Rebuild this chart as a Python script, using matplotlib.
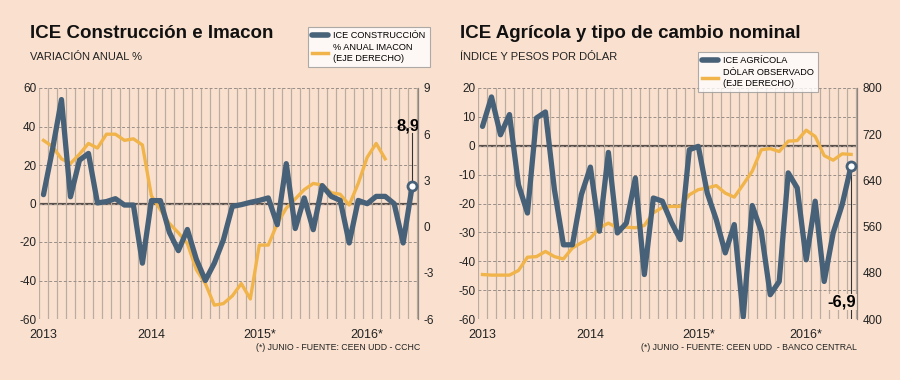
import matplotlib
matplotlib.use("Agg")
import matplotlib.pyplot as plt
import numpy as np
from matplotlib.lines import Line2D

plt.rcParams['font.family'] = ['Liberation Sans', 'DejaVu Sans']
plt.rcParams['axes.unicode_minus'] = False

# monthly data, Jan 2013 .. Jun 2016
ice_construccion = [4.6, 28, 54, 3.5, 22.5, 26, 0.3, 1, 2.5, -0.8, -0.8, -31,
                    1.5, 1.5, -15, -24.5, -13.5, -29, -40, -31, -19, -1.5, -0.6, 0.6,
                    1.6, 2.9, -11, 20.7, -13, 2.9, -13.6, 9.3, 3.7, 1.6, -20.5, 1.6,
                    -0.1, 3.7, 3.7, -0.1, -20.5, 8.9]
imacon = [5.6, 5.2, 4.4, 4.1, 4.7, 5.4, 5.1, 6.0, 6.0, 5.6, 5.7, 5.3,
          2.0, 1.1, 0.2, -0.4, -1.1, -2.8, -3.7, -5.1, -5.0, -4.5, -3.7, -4.7,
          -1.2, -1.2, 0.2, 1.2, 1.8, 2.4, 2.8, 2.7, 2.2, 2.1, 1.4, 2.8,
          4.5, 5.4, 4.4]
ice_agricola = [6.7, 16.9, 3.8, 10.8, -13.5, -23.3, 9.6, 11.7, -15.2, -34.3, -34.3, -16.9,
                -7.4, -29.6, -2.3, -30.2, -26.8, -11.2, -44.6, -18.1, -19.2, -26.5, -32.5, -1.4,
                -0.2, -16.4, -25.6, -37.1, -27.3, -59.3, -20.7, -29.6, -51.6, -47, -9.4, -14.6,
                -39.5, -19.2, -47, -30.2, -20.4, -6.9]
dolar = [477, 476, 476, 476, 484, 507, 508, 517, 508, 504, 523, 532,
         540, 558, 566, 558, 559, 558, 562, 584, 593, 595, 595, 615,
         624, 627, 631, 618, 611, 633, 656, 693, 695, 690, 708, 709,
         727, 716, 683, 675, 686, 685]
year_labels = ['2013', '2014', '2015*', '2016*']

BG = '#FAE1CF'
BLUE = '#476179'
ORANGE = '#F0B44B'
GRID_V = '#BCAB9F'
GRID_H = '#9A8F88'
ZERO = '#5A504B'
BOLD = ['Liberation Sans', 'DejaVu Sans']

fig = plt.figure(figsize=(9, 3.8), dpi=100, facecolor=BG)


def panel(rect, left_data, right_data, ylim, yticks, ylim2, yticks2):
    ax = fig.add_axes(rect)
    ax.set_facecolor(BG)
    ax2 = ax.twinx()
    ax2.patch.set_visible(False)
    x1 = np.arange(len(left_data))
    x2 = np.arange(len(right_data))
    ax.set_xlim(-0.47, 41.65)
    ax.set_ylim(*ylim)
    ax2.set_ylim(*ylim2)
    ax.set_yticks(yticks)
    ax2.set_yticks(yticks2)
    ax.set_xticks([0, 12, 24, 36])
    ax.set_xticklabels(year_labels)
    ax.set_xticks(np.arange(-0.5, 42, 1), minor=True)
    ax.grid(axis='x', which='minor', color=GRID_V, lw=0.9, zorder=0)
    ax.grid(axis='y', which='major', color=GRID_H, lw=0.7, ls=(0, (3, 2)), zorder=0)
    ax.axhline(0, color=ZERO, lw=1.6, zorder=1)
    for s in ['top', 'bottom', 'left', 'right']:
        ax.spines[s].set_visible(False)
    for s in ['top', 'bottom', 'left']:
        ax2.spines[s].set_visible(False)
    ax2.spines['right'].set_color('#8C8580')
    ax2.spines['right'].set_linewidth(0.9)
    ax.tick_params(axis='both', which='both', length=0, labelsize=8.5, colors='#222222', pad=2)
    ax.tick_params(axis='x', labelsize=9, pad=7)
    ax2.tick_params(axis='y', length=0, labelsize=8.5, colors='#222222', pad=4)

    ax2.plot(x2, right_data, color=ORANGE, lw=2.4, solid_joinstyle='round', zorder=2)
    ax2.plot(x1, left_data, color=BLUE, lw=3.8, solid_joinstyle='round',
             solid_capstyle='round', transform=ax.transData, zorder=3)
    ax2.plot(x1[-1], left_data[-1], 'o', ms=6.5, mfc='white', mec=BLUE, mew=2,
             transform=ax.transData, zorder=5)
    return ax, ax2, x1


# left panel
axl, axl2, xl = panel([39 / 900, 1 - 319 / 380, 379 / 900, 231 / 380],
                      ice_construccion, imacon, (-60, 60), range(-60, 61, 20),
                      (-6, 9), range(-6, 10, 3))
axl.plot([xl[-1], xl[-1]], [ice_construccion[-1], 36.5], color='#333333', lw=0.8, zorder=4)
axl.text(40.5, 40.5, '8,9', ha='center', va='center', fontsize=12, fontweight='bold',
         family=BOLD, zorder=6)

# right panel
axr, axr2, xr = panel([478 / 900, 1 - 319 / 380, 379 / 900, 231 / 380],
                      ice_agricola, dolar, (-60, 20), range(-60, 21, 10),
                      (400, 800), range(400, 801, 80))
axr.plot([xr[-1], xr[-1]], [ice_agricola[-1], -60], color='#333333', lw=0.8, zorder=4)
axr.text(40.0, -54.2, '-6,9', ha='center', va='center', fontsize=12, fontweight='bold',
         family=BOLD, zorder=6, bbox=dict(facecolor=BG, edgecolor='none', pad=0.3))

# titles
fig.text(30 / 900, 1 - 33 / 380, 'ICE Construcción e Imacon', fontsize=13.5, fontweight='bold',
         family=BOLD, va='center', ha='left', color='#111111')
fig.text(30 / 900, 1 - 57 / 380, 'VARIACIÓN ANUAL %', fontsize=8, va='center', ha='left',
         color='#222222')
fig.text(460 / 900, 1 - 33 / 380, 'ICE Agrícola y tipo de cambio nominal', fontsize=13.5,
         fontweight='bold', family=BOLD, va='center', ha='left', color='#111111')
fig.text(460 / 900, 1 - 57 / 380, 'ÍNDICE Y PESOS POR DÓLAR', fontsize=8, va='center',
         ha='left', color='#222222')

# footnotes
fig.text(420 / 900, 1 - 347 / 380, '(*) JUNIO - FUENTE: CEEN UDD - CCHC', fontsize=6.3,
         ha='right', va='center', color='#222222')
fig.text(857 / 900, 1 - 347 / 380, '(*) JUNIO - FUENTE: CEEN UDD  - BANCO CENTRAL', fontsize=6.3,
         ha='right', va='center', color='#222222')

# legends
h1 = [Line2D([], [], color=BLUE, lw=4, solid_capstyle='round'),
      Line2D([], [], color=ORANGE, lw=2.5)]
legend_kw = dict(loc='upper left', fontsize=6.6, frameon=True, fancybox=False,
                 handlelength=1.7, handletextpad=0.6, borderpad=0.45, labelspacing=0.35,
                 borderaxespad=0)
leg = fig.legend(h1, ['ICE CONSTRUCCIÓN', '% ANUAL IMACON\n(EJE DERECHO)'],
                 bbox_to_anchor=(308 / 900, 1 - 27 / 380), **legend_kw)
leg2 = fig.legend(h1, ['ICE AGRÍCOLA', 'DÓLAR OBSERVADO\n(EJE DERECHO)'],
                  bbox_to_anchor=(698 / 900, 1 - 52 / 380), **legend_kw)
for lg in (leg, leg2):
    lg.get_frame().set_edgecolor('#999999')
    lg.get_frame().set_linewidth(0.8)
    lg.set_zorder(10)

fig.savefig('out.png', dpi=100, facecolor=BG)
